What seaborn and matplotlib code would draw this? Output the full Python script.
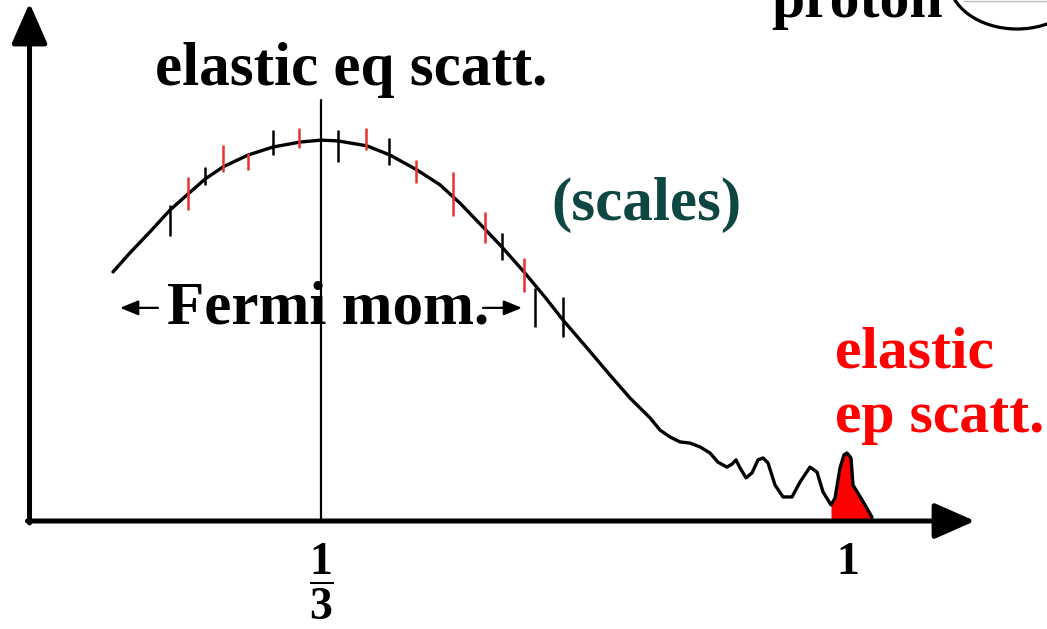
import numpy as np
import pandas as pd
import matplotlib
matplotlib.use("Agg")
import matplotlib.pyplot as plt
from matplotlib.patches import Ellipse
import seaborn as sns

# Structure function sketch: momentum fraction x vs. cross section (arbitrary units)
curve_x = [0.0702, 0.0917, 0.1170, 0.1423, 0.1651, 0.1866, 0.2094, 0.2410, 0.2726,
           0.3068, 0.3333, 0.3548, 0.3915, 0.4206, 0.4548, 0.4839, 0.5092, 0.5408,
           0.5623, 0.5914, 0.6167, 0.6395, 0.6698, 0.6989, 0.7242, 0.7495, 0.7622,
           0.7748, 0.7875, 0.8001, 0.8128, 0.8254, 0.8355, 0.8469, 0.8533, 0.8583,
           0.8634, 0.8710, 0.8786, 0.8862, 0.8925, 0.8988, 0.9077, 0.9178, 0.9292,
           0.9393, 0.9519, 0.9608, 0.9684, 0.9785, 0.9836, 0.9899, 0.9949, 0.9987,
           1.0038, 1.0063, 1.0117, 1.0193, 1.0304]
curve_y = [0.652, 0.702, 0.757, 0.814, 0.856, 0.895, 0.927, 0.958, 0.979,
           0.992, 0.997, 0.995, 0.982, 0.958, 0.919, 0.880, 0.832, 0.764,
           0.717, 0.649, 0.586, 0.526, 0.453, 0.382, 0.322, 0.270, 0.238,
           0.220, 0.207, 0.204, 0.194, 0.178, 0.154, 0.141, 0.149, 0.160,
           0.139, 0.113, 0.126, 0.160, 0.165, 0.152, 0.094, 0.063, 0.063,
           0.102, 0.141, 0.128, 0.076, 0.042, 0.060, 0.139, 0.173, 0.178,
           0.165, 0.094, 0.076, 0.050, 0.010]

# elastic ep peak starts at this x
elastic_start = 0.9785

# scaling "error bars" along the curve
black_tick_x = [0.1423, 0.1866, 0.2726, 0.3548, 0.4193, 0.5623, 0.6040, 0.6395]
black_tick_lo = [0.746, 0.880, 0.958, 0.940, 0.932, 0.683, 0.508, 0.482]
black_tick_hi = [0.827, 0.927, 1.024, 1.024, 1.003, 0.754, 0.610, 0.586]
red_tick_x = [0.1651, 0.2094, 0.2410, 0.3055, 0.3903, 0.4535, 0.5003, 0.5408, 0.5901]
red_tick_lo = [0.814, 0.914, 0.919, 0.976, 0.971, 0.885, 0.798, 0.728, 0.599]
red_tick_hi = [0.901, 0.984, 0.963, 1.029, 1.029, 0.945, 0.914, 0.809, 0.688]

tick_positions = [1 / 3, 1.0]
tick_labels = [r"$\mathbf{\dfrac{1}{3}}$", "1"]

sns.set_theme(style="white")
plt.rcParams["font.family"] = ["Liberation Serif", "DejaVu Serif"]
plt.rcParams["mathtext.fontset"] = "custom"
plt.rcParams["mathtext.bf"] = "Liberation Serif:bold"
plt.rcParams["mathtext.rm"] = "Liberation Serif"

fig = plt.figure(figsize=(10.47, 6.29), dpi=100)
ax = fig.add_axes([0.0, 108 / 629, 1.0, 521 / 629])
ax.set_xlim(-0.07274, 1.25174)
ax.set_ylim(0, 1.36387)
for s in ax.spines.values():
    s.set_visible(False)
ax.set_yticks([])
ax.set_xticks(tick_positions)
ax.set_xticklabels(tick_labels, fontsize=33, fontweight="bold", color="black")
ax.tick_params(axis="x", length=0, pad=15, labelcolor="black")

df = pd.DataFrame({"x": curve_x, "y": curve_y})

# red elastic peak
peak = df[df["x"] >= elastic_start]
ax.fill_between(peak["x"], 0, peak["y"], color="#ff0000", lw=0, zorder=2)

sns.lineplot(data=df, x="x", y="y", ax=ax, color="black", lw=2.4,
             estimator=None, sort=False, zorder=3)
ax.lines[-1].set_solid_joinstyle("round")
ax.lines[-1].set_solid_capstyle("round")
ax.set_xlabel("")
ax.set_ylabel("")

# vertical line at x = 1/3
ax.plot([1 / 3, 1 / 3], [0, 1.102], color="black", lw=1.6, zorder=3)

ax.vlines(black_tick_x, black_tick_lo, black_tick_hi, color="black", lw=1.8, zorder=4)
ax.vlines(red_tick_x, red_tick_lo, red_tick_hi, color="#e8332c", lw=1.8, zorder=4)

# axes arrows
arrow_kw = dict(arrowstyle="-|>,head_length=2.5,head_width=1.1", mutation_scale=10,
                lw=3.6, color="black", shrinkA=0, shrinkB=0)
ax.annotate("", xy=(-0.0354, 1.356), xytext=(-0.0354, -0.005),
            arrowprops=arrow_kw, annotation_clip=False)
ax.annotate("", xy=(1.1607, 0.0), xytext=(-0.0380, 0.0),
            arrowprops=arrow_kw, annotation_clip=False)

bold = dict(fontweight="bold")
ax.text(0.3713, 1.141, "elastic eq scatt.", ha="center", va="baseline",
        fontsize=44, color="black", **bold)
ax.text(0.745, 0.788, "(scales)", ha="center", va="baseline",
        fontsize=44, color="#0e4643", **bold)
ax.text(0.3422, 0.518, "Fermi mom.", ha="center", va="baseline",
        fontsize=44, color="black", **bold)
# Fermi momentum range arrows
small_arrow = dict(arrowstyle="-|>,head_length=1.1,head_width=0.45", mutation_scale=10,
                   lw=1.6, color="black", shrinkA=0, shrinkB=0)
ax.annotate("", xy=(0.0791, 0.558), xytext=(0.1271, 0.558), arrowprops=small_arrow)
ax.annotate("", xy=(0.5876, 0.558), xytext=(0.5383, 0.558), arrowprops=small_arrow)

ax.text(0.9836, 0.403, "elastic", ha="left", va="baseline",
        fontsize=43, color="#ff0000", **bold)
ax.text(0.9836, 0.233, "ep scatt.", ha="left", va="baseline",
        fontsize=43, color="#ff0000", **bold)
ax.text(0.9026, 1.319, "proton", ha="left", va="baseline",
        fontsize=43, color="black", clip_on=False, **bold)

# proton outline in the corner
ax.add_patch(Ellipse((1.2138, 1.4162), 0.1720, 0.2565, fill=False,
                     edgecolor="black", lw=2.3, clip_on=False))
ax.plot([1.1462, 1.2517], [1.362, 1.362], color="#bbbbbb", lw=1, clip_on=False)

fig.savefig("out.png", dpi=100)
